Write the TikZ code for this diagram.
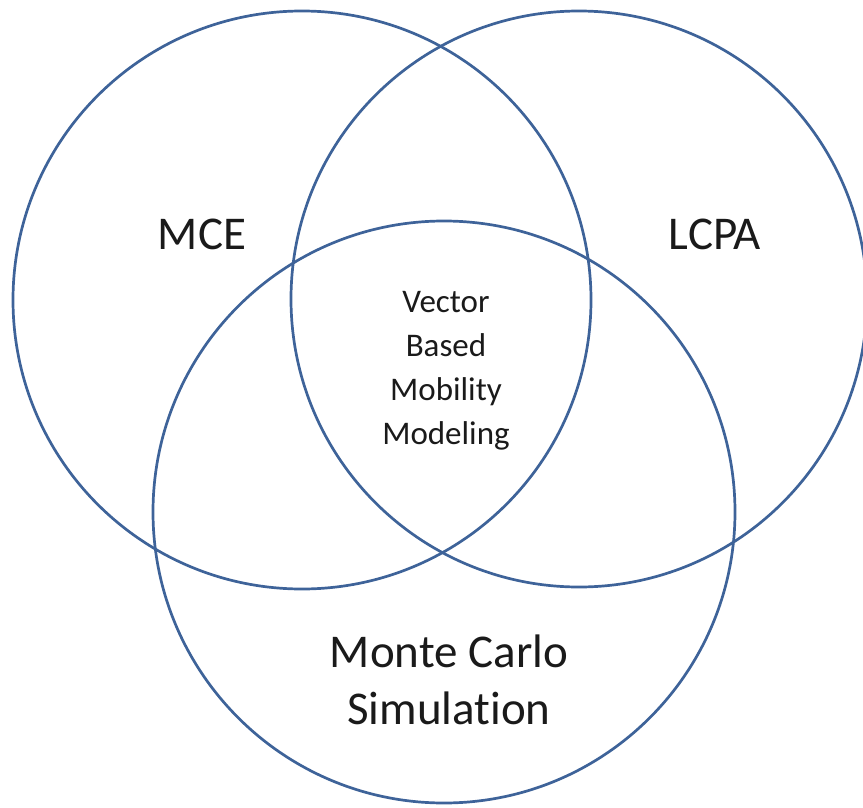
\documentclass[tikz,border=0pt]{standalone}
\usepackage{fontspec}
\setmainfont[Ligatures=NoCommon]{Carlito}
\definecolor{ringblue}{HTML}{3E6399}
\definecolor{labelink}{HTML}{1A1A1A}
\begin{document}
\begin{tikzpicture}[x=1pt,y=-1pt,
  ring/.style={draw=ringblue,line width=2.7pt},
  biglabel/.style={text=labelink,font=\fontsize{47}{57}\selectfont,align=center,inner sep=0pt},
  smalllabel/.style={text=labelink,font=\fontsize{33}{44}\selectfont,align=center,inner sep=0pt}]
  \useasboundingbox (0,0) rectangle (863,808);
  % the three sets
  \node[ring,circle,minimum size=578pt,inner sep=0pt] (mce) at (302,300) {};
  \node[ring,circle,minimum size=576pt,inner sep=0pt] (lcpa) at (579,299) {};
  \node[ring,circle,minimum size=582pt,inner sep=0pt] (mc) at (444,512) {};
  % set labels
  \node[biglabel] (mcetext) at (202,234) {MCE};
  \node[biglabel] (lcpatext) at (715,234) {LCPA};
  \node[biglabel] (mctext) at (449,680) {Monte Carlo\\Simulation};
  % shared region
  \node[smalllabel] (core) at (446,371) {Vector\\Based\\Mobility\\Modeling};
\end{tikzpicture}
\end{document}
